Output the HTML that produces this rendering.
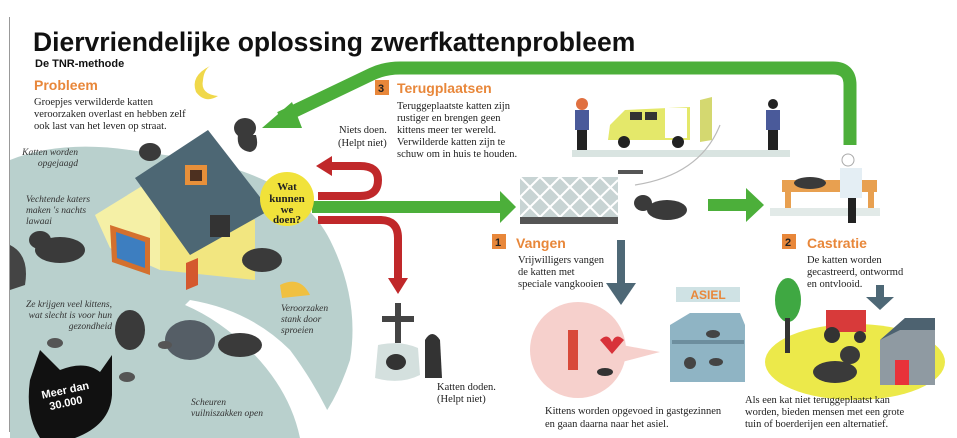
<!DOCTYPE html>
<html><head><meta charset="utf-8"><style>
html,body{margin:0;padding:0;background:#fff;}
svg{display:block}
.s{font-family:"Liberation Serif",serif;font-size:10.5px;fill:#222}
.i{font-family:"Liberation Serif",serif;font-size:9.5px;font-style:italic;fill:#333}
.h{font-family:"Liberation Sans",sans-serif;font-weight:bold;font-size:14px;fill:#e8873a}
</style></head><body>
<svg width="957" height="438" viewBox="0 0 957 438">
<line x1="9.5" y1="17" x2="9.5" y2="432" stroke="#999" stroke-width="1"/>
<path d="M10,160 Q60,140 130,150 L200,160 Q300,180 330,240 Q360,300 350,360 Q330,420 300,438 L10,438 Z" fill="#b9d0cd"/>
<path d="M190,300 Q250,310 290,350 Q320,390 340,438 L300,438 Q290,390 250,350 Q220,320 185,305 Z" fill="#fff"/>
<text x="33" y="51" font-family="Liberation Sans,sans-serif" font-weight="bold" font-size="26.5" fill="#111">Diervriendelijke oplossing zwerfkattenprobleem</text>
<text x="35" y="67" font-family="Liberation Sans,sans-serif" font-weight="bold" font-size="11" fill="#111">De TNR-methode</text>
<path d="M210,66 Q190,76 196,92 Q205,104 218,96 Q200,94 203,80 Q204,70 210,66Z" fill="#f0d84a"/>
<text x="34" y="90" class="h">Probleem</text>
<text x="34" y="105" class="s">Groepjes verwilderde katten</text>
<text x="34" y="117" class="s">veroorzaken overlast en hebben zelf</text>
<text x="34" y="129" class="s">ook last van het leven op straat.</text>
<ellipse cx="245" cy="128" rx="11" ry="10" fill="#3a3a3a"/><path d="M238,135 Q236,150 250,152 Q260,150 256,135Z" fill="#3a3a3a"/>
<ellipse cx="150" cy="152" rx="11" ry="9" fill="#3a3a3a"/>
<polygon points="95,215 160,175 160,270 110,248" fill="#f5f0a6"/>
<polygon points="160,175 255,220 255,280 160,270" fill="#f2e680"/>
<polygon points="135,178 208,130 270,210 190,255" fill="#4d6774"/>
<rect x="185" y="165" width="22" height="20" fill="#e8903a"/><rect x="190" y="170" width="12" height="11" fill="#4d3020"/>
<polygon points="110,225 150,238 150,275 112,262" fill="#d4702e"/><polygon points="116,232 145,242 145,268 117,258" fill="#3d7ec0"/>
<rect x="210" y="215" width="20" height="22" fill="#333"/>
<polygon points="186,263 198,258 198,285 186,290" fill="#d4582e"/>
<ellipse cx="60" cy="250" rx="25" ry="13" fill="#3a3a3a"/><ellipse cx="40" cy="240" rx="11" ry="9" fill="#3a3a3a"/>
<path d="M10,245 Q30,255 25,285 L10,290Z" fill="#444"/>
<ellipse cx="262" cy="260" rx="20" ry="12" fill="#3a3a3a"/>
<path d="M280,285 Q300,275 310,295 L282,298Z" fill="#f0c040"/>
<ellipse cx="130" cy="330" rx="15" ry="20" fill="#3a3a3a"/>
<ellipse cx="190" cy="340" rx="25" ry="20" fill="#555e66"/>
<ellipse cx="240" cy="345" rx="22" ry="12" fill="#3a3a3a"/>
<ellipse cx="165" cy="345" rx="7" ry="4" fill="#555"/><ellipse cx="55" cy="343" rx="8" ry="5" fill="#555"/><ellipse cx="127" cy="377" rx="8" ry="5" fill="#555"/>
<path d="M30,380 L40,350 L60,370 Q85,360 100,372 L112,355 L112,395 Q110,425 75,438 L40,438 Q25,415 30,380Z" fill="#111"/>
<text x="42" y="395" font-family="Liberation Sans,sans-serif" font-weight="bold" font-size="11" fill="#fff" transform="rotate(-12 60 395)">Meer dan</text>
<text x="50" y="408" font-family="Liberation Sans,sans-serif" font-weight="bold" font-size="11" fill="#fff" transform="rotate(-12 60 408)">30.000</text>
<text x="78" y="155" class="i" text-anchor="end" font-size="8.5">Katten worden</text><text x="78" y="166" class="i" text-anchor="end" font-size="8.5">opgejaagd</text>
<text x="26" y="202" class="i" font-size="8.5">Vechtende katers</text><text x="26" y="213" class="i" font-size="8.5">maken 's nachts</text><text x="26" y="224" class="i" font-size="8.5">lawaai</text>
<text x="112" y="307" class="i" text-anchor="end" font-size="8.5">Ze krijgen veel kittens,</text><text x="112" y="318" class="i" text-anchor="end" font-size="8.5">wat slecht is voor hun</text><text x="112" y="329" class="i" text-anchor="end" font-size="8.5">gezondheid</text>
<text x="281" y="311" class="i" font-size="8.5">Veroorzaken</text><text x="281" y="322" class="i" font-size="8.5">stank door</text><text x="281" y="333" class="i" font-size="8.5">sproeien</text>
<text x="191" y="405" class="i" font-size="8.5">Scheuren</text><text x="191" y="416" class="i" font-size="8.5">vuilniszakken open</text>
<path d="M850,145 L850,85 Q850,68 833,68 L400,68 Q385,68 372,74 L280,118" fill="none" stroke="#4caf3a" stroke-width="13"/>
<polygon points="262,128 292,102 302,128" fill="#4caf3a"/>
<path d="M318,196 L360,196 Q378,196 378,180 Q378,166 360,166 L330,166" fill="none" stroke="#c0282a" stroke-width="8"/>
<polygon points="316,166 332,156 332,176" fill="#c0282a"/>
<path d="M318,220 L380,220 Q398,220 398,238 L398,280" fill="none" stroke="#c0282a" stroke-width="8"/>
<polygon points="388,278 408,278 398,294" fill="#c0282a"/>
<text x="339" y="133" class="s">Niets doen.</text><text x="338" y="146" class="s">(Helpt niet)</text>
<rect x="312" y="201" width="190" height="12" fill="#4caf3a"/>
<polygon points="500,191 516,207 500,223" fill="#4caf3a"/>
<circle cx="287" cy="199" r="27" fill="#f1e23a"/>
<text x="287" y="190" text-anchor="middle" font-family="Liberation Serif,serif" font-weight="bold" font-size="11" fill="#222">Wat</text>
<text x="287" y="202" text-anchor="middle" font-family="Liberation Serif,serif" font-weight="bold" font-size="11" fill="#222">kunnen</text>
<text x="287" y="213" text-anchor="middle" font-family="Liberation Serif,serif" font-weight="bold" font-size="11" fill="#222">we</text>
<text x="287" y="223" text-anchor="middle" font-family="Liberation Serif,serif" font-weight="bold" font-size="11" fill="#222">doen?</text>
<rect x="395" y="303" width="6" height="40" fill="#444"/><rect x="382" y="316" width="32" height="6" fill="#444"/>
<path d="M378,345 Q400,340 418,348 L420,375 Q400,385 375,378Z" fill="#d4e0de"/>
<ellipse cx="396" cy="362" rx="10" ry="8" fill="#333"/>
<path d="M425,340 Q432,328 440,340 L442,378 L425,378Z" fill="#333"/>
<text x="437" y="390" class="s">Katten doden.</text><text x="437" y="402" class="s">(Helpt niet)</text>
<rect x="375" y="80" width="14" height="15" fill="#e8873a"/><text x="378" y="92" font-family="Liberation Sans,sans-serif" font-weight="bold" font-size="11" fill="#222">3</text>
<text x="397" y="93" class="h">Terugplaatsen</text>
<text x="397" y="109" class="s">Teruggeplaatste katten zijn</text>
<text x="397" y="121" class="s">rustiger en brengen geen</text>
<text x="397" y="133" class="s">kittens meer ter wereld.</text>
<text x="397" y="145" class="s">Verwilderde katten zijn te</text>
<text x="397" y="157" class="s">schuw om in huis te houden.</text>
<rect x="572" y="150" width="218" height="7" fill="#d9e4e1"/>
<path d="M610,125 L625,110 L690,107 L690,140 L608,140Z" fill="#e4e86a"/>
<rect x="630" y="112" width="12" height="8" fill="#333"/><rect x="645" y="112" width="12" height="8" fill="#333"/>
<rect x="665" y="108" width="22" height="30" fill="#fff"/><polygon points="700,100 712,97 712,140 700,142" fill="#d4d870"/>
<circle cx="624" cy="142" r="6" fill="#222"/><circle cx="678" cy="142" r="6" fill="#222"/>
<circle cx="582" cy="104" r="6" fill="#e07040"/><rect x="575" y="110" width="14" height="20" fill="#4a5a9a"/><rect x="577" y="130" width="10" height="20" fill="#222"/>
<circle cx="773" cy="104" r="5" fill="#222"/><rect x="766" y="110" width="14" height="20" fill="#4a5a9a"/><rect x="768" y="130" width="10" height="20" fill="#222"/>
<path d="M635,185 Q700,175 720,125" fill="none" stroke="#bbb" stroke-width="1.2"/>
<rect x="520" y="177" width="98" height="40" fill="#c8d4d4"/>
<path d="M520,177 l40,40 M540,177 l40,40 M560,177 l40,40 M580,177 l38,38 M600,177 l18,18 M520,197 l20,20 M540,177 l-20,20 M560,177 l-40,40 M580,177 l-40,40 M600,177 l-40,40 M618,180 l-38,37 M618,200 l-18,17" stroke="#fff" stroke-width="2"/>
<rect x="520" y="217" width="98" height="7" fill="#555"/><rect x="618" y="170" width="25" height="4" fill="#555"/>
<ellipse cx="667" cy="210" rx="20" ry="10" fill="#3a3a3a"/><ellipse cx="643" cy="203" rx="9" ry="8" fill="#3a3a3a"/>
<rect x="708" y="199" width="40" height="12" fill="#4caf3a"/><polygon points="746,188 764,205 746,222" fill="#4caf3a"/>
<rect x="782" y="180" width="95" height="12" fill="#e8a050"/><rect x="785" y="192" width="6" height="20" fill="#e8a050"/><rect x="868" y="192" width="6" height="20" fill="#e8a050"/>
<rect x="770" y="208" width="110" height="8" fill="#e2eae8"/>
<ellipse cx="810" cy="183" rx="16" ry="6" fill="#3a3a3a"/>
<circle cx="848" cy="160" r="6" fill="#fff" stroke="#aaa"/><rect x="840" y="168" width="22" height="30" fill="#e4eef4"/><rect x="848" y="198" width="8" height="25" fill="#222"/>
<rect x="492" y="234" width="14" height="15" fill="#e8873a"/><text x="495" y="246" font-family="Liberation Sans,sans-serif" font-weight="bold" font-size="11" fill="#222">1</text>
<text x="516" y="248" class="h">Vangen</text>
<text x="518" y="263" class="s">Vrijwilligers vangen</text><text x="518" y="275" class="s">de katten met</text><text x="518" y="287" class="s">speciale vangkooien</text>
<rect x="617" y="240" width="8" height="45" fill="#4e6876"/><polygon points="606,283 636,283 621,305" fill="#4e6876"/>
<circle cx="578" cy="350" r="48" fill="#f6d0cc"/><polygon points="622,345 660,352 622,362" fill="#f6d0cc"/>
<rect x="568" y="330" width="10" height="40" fill="#d84a3a"/><path d="M600,340 q8,-8 12,2 q4,-10 12,-2 l-12,14z" fill="#d8323a"/>
<ellipse cx="605" cy="372" rx="8" ry="4" fill="#333"/>
<rect x="676" y="287" width="64" height="15" fill="#cfe2e4"/>
<text x="708" y="299" text-anchor="middle" font-family="Liberation Sans,sans-serif" font-weight="bold" font-size="12" fill="#e8873a">ASIEL</text>
<polygon points="690,313 740,313 745,325 745,382 670,382 670,325" fill="#8fb4c4"/>
<rect x="672" y="340" width="72" height="4" fill="#6d8e9e"/>
<ellipse cx="713" cy="334" rx="7" ry="4" fill="#444"/><ellipse cx="690" cy="363" rx="6" ry="6" fill="#444"/><ellipse cx="716" cy="362" rx="7" ry="4" fill="#444"/>
<text x="545" y="414" class="s">Kittens worden opgevoed in gastgezinnen</text>
<text x="545" y="427" class="s">en gaan daarna naar het asiel.</text>
<rect x="782" y="234" width="14" height="15" fill="#e8873a"/><text x="785" y="246" font-family="Liberation Sans,sans-serif" font-weight="bold" font-size="11" fill="#222">2</text>
<text x="807" y="248" class="h">Castratie</text>
<text x="807" y="263" class="s">De katten worden</text><text x="807" y="275" class="s">gecastreerd, ontwormd</text><text x="807" y="287" class="s">en ontvlooid.</text>
<rect x="876" y="285" width="8" height="14" fill="#4e6876"/><polygon points="866,297 894,297 880,310" fill="#4e6876"/>
<ellipse cx="855" cy="362" rx="90" ry="38" fill="#ece94a"/>
<ellipse cx="788" cy="300" rx="13" ry="22" fill="#3fa842"/><rect x="785" y="318" width="5" height="35" fill="#333"/>
<rect x="826" y="310" width="40" height="22" fill="#d83a3a"/><circle cx="832" cy="335" r="8" fill="#333"/><circle cx="860" cy="337" r="6" fill="#333"/>
<polygon points="880,340 905,318 935,325 935,385 880,385" fill="#8f9aa2"/><polygon points="880,340 905,318 935,318 935,330 900,330" fill="#4d6270"/>
<rect x="895" y="360" width="14" height="25" fill="#e8323a"/>
<ellipse cx="835" cy="372" rx="22" ry="11" fill="#3a3a3a"/><ellipse cx="850" cy="355" rx="10" ry="9" fill="#3a3a3a"/>
<text x="745" y="403" class="s">Als een kat niet teruggeplaatst kan</text>
<text x="745" y="415" class="s">worden, bieden mensen met een grote</text>
<text x="745" y="427" class="s">tuin of boerderijen een alternatief.</text>
</svg>
</body></html>
